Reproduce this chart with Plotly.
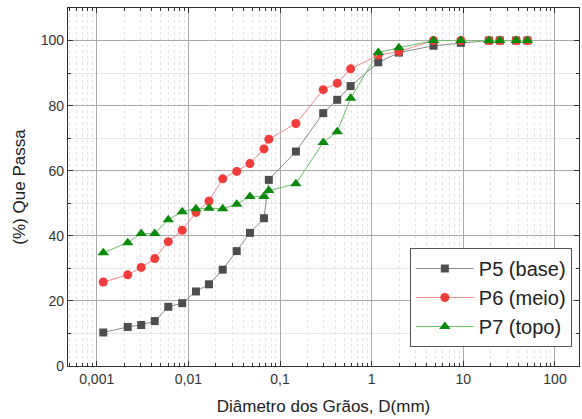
import plotly.graph_objects as go

# Grain diameter (mm)
diametro = [0.00118, 0.00218, 0.00306, 0.0043, 0.00604, 0.00857, 0.0121, 0.0168,
            0.0237, 0.0337, 0.047, 0.0668, 0.0755, 0.149, 0.296, 0.421, 0.589,
            1.18, 1.98, 4.73, 9.4, 19.0, 25.0, 37.7, 50.0]

p5_base = [10.3, 12.0, 12.6, 13.8, 18.2, 19.3, 22.9, 25.1, 29.6, 35.3, 40.9, 45.4,
           57.2, 65.9, 77.7, 81.8, 86.0, 93.3, 96.3, 98.4, 99.3, 100, 100, 100, 100]
p6_meio = [25.8, 28.0, 30.3, 33.0, 38.2, 41.7, 47.2, 50.7, 57.5, 59.8, 62.2, 66.7,
           69.7, 74.5, 84.9, 86.9, 91.3, 95.5, 96.6, 100, 100, 100, 100, 100, 100]
p7_topo = [34.8, 37.9, 40.7, 40.7, 44.9, 47.4, 48.3, 48.5, 48.3, 49.7, 52.1, 52.1,
           53.9, 56.0, 68.7, 72.0, 82.3, 96.3, 97.8, 100, 100, 100, 100, 100, 100]

x_tickvals = [0.001, 0.01, 0.1, 1, 10, 100]
x_ticktext = ["0,001", "0,01", "0,1", "1", "10", "100"]
y_tickvals = [0, 20, 40, 60, 80, 100]

FONT = "Liberation Sans, Arial, sans-serif"

minor_x = []
for dec in [0.0001, 0.001, 0.01, 0.1, 1, 10, 100]:
    for k in range(2, 10):
        minor_x.append(dec * k)

fig = go.Figure()
series = [
    ("P5 (base)", p5_base, "square", "#4d4d4d", "#8a8a8a", 8),
    ("P6 (meio)", p6_meio, "circle", "#f23c3c", "#f58a8a", 9),
    ("P7 (topo)", p7_topo, "triangle-up", "#0a8a0a", "#6cc06c", 10),
]
for name, vals, sym, mcol, lcol, msz in series:
    fig.add_trace(go.Scatter(
        x=diametro, y=vals, name=name, mode="lines+markers",
        line=dict(color=lcol, width=1),
        marker=dict(symbol=sym, size=msz, color=mcol, line=dict(width=0)),
    ))

fig.update_layout(
    width=582, height=419,
    margin=dict(l=68, r=3, t=8, b=53, autoexpand=False),
    paper_bgcolor="white", plot_bgcolor="white",
    font=dict(family=FONT, color="#333333", size=14),
    showlegend=True,
    legend=dict(
        x=0.986, y=0.053, xanchor="right", yanchor="bottom",
        bgcolor="white", bordercolor="#555555", borderwidth=1,
        font=dict(family=FONT, size=20, color="#222222"),
        tracegroupgap=0, itemwidth=58,
    ),
)

fig.update_xaxes(
    type="log", range=[-3.313, 2.262], automargin=False,
    tickmode="array", tickvals=x_tickvals, ticktext=x_ticktext,
    ticks="inside", ticklen=5, tickwidth=1, tickcolor="#333333",
    showline=True, linecolor="#333333", linewidth=1.3, mirror="allticks",
    showgrid=True, gridcolor="#aaaaaa", gridwidth=1,
    tickfont=dict(size=14, color="#333333"),
    zeroline=False,
    minor=dict(tickmode="array", tickvals=minor_x, ticks="inside", ticklen=3,
               tickcolor="#333333", showgrid=True, gridcolor="#e3e3e3",
               griddash="dot", gridwidth=1),
    title=dict(text="Diâmetro dos Grãos, D(mm)", font=dict(size=17, color="#222222"),
               standoff=14),
)
fig.update_yaxes(
    range=[0, 110], automargin=False,
    tickmode="array", tickvals=y_tickvals,
    ticks="inside", ticklen=5, tickwidth=1, tickcolor="#333333",
    showline=True, linecolor="#333333", linewidth=1.3, mirror="allticks",
    showgrid=True, gridcolor="#aaaaaa", gridwidth=1,
    tickfont=dict(size=14, color="#333333"),
    zeroline=False,
    minor=dict(dtick=10, ticks="inside", ticklen=3, tickcolor="#333333",
               showgrid=True, gridcolor="#e6e6e6", gridwidth=1),
    title=dict(text="(%) Que Passa", font=dict(size=17, color="#222222"),
               standoff=10),
)

fig.write_html("out.html")
